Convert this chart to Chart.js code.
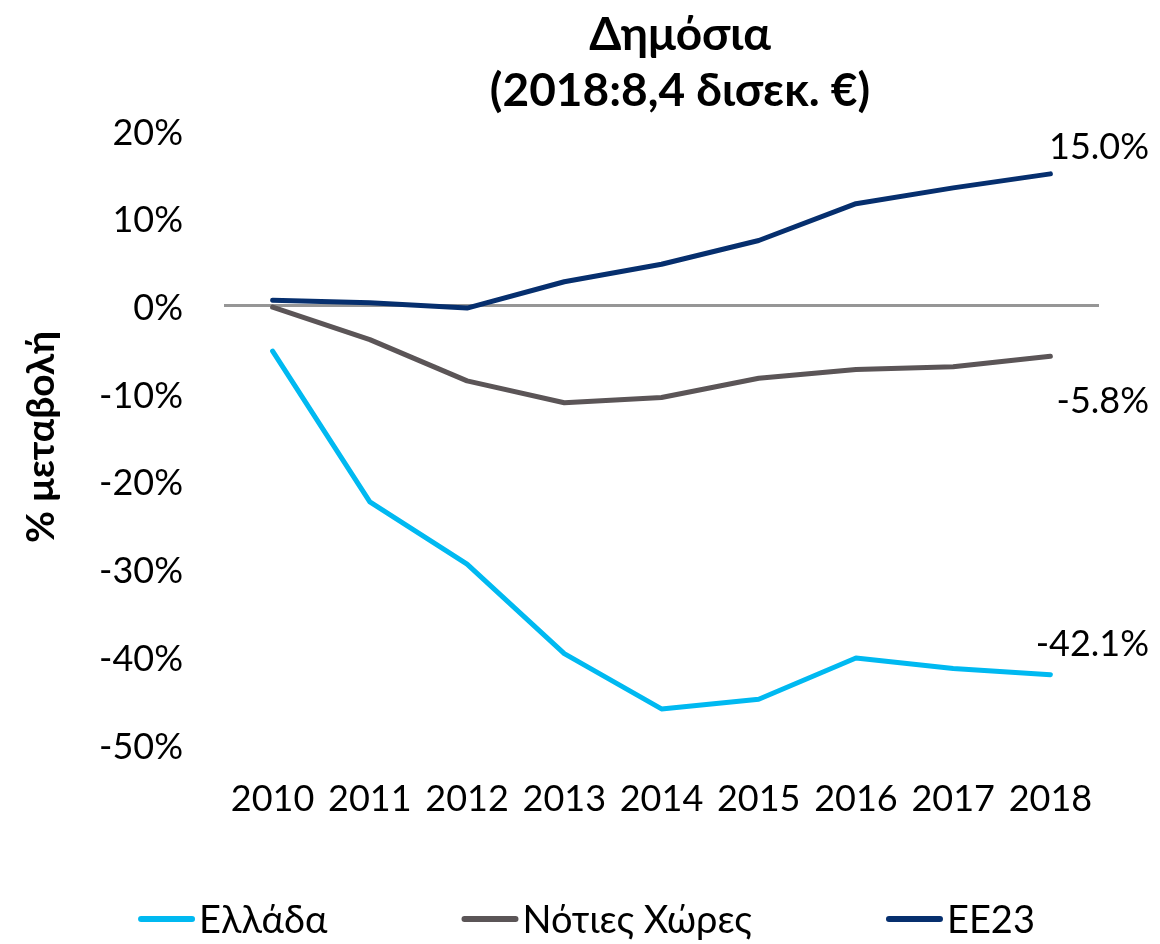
<!DOCTYPE html>
<html><head><meta charset="utf-8">
<script src="https://cdn.jsdelivr.net/npm/chart.js@4"></script>
<style>html,body{margin:0;padding:0;background:#fff}canvas{display:block}</style>
</head><body>
<canvas id="c" width="1160" height="944"></canvas>
<script>
// ---- data ----
const years = ['2010','2011','2012','2013','2014','2015','2016','2017','2018'];
const greece = [-5.2,-22.4,-29.5,-39.7,-46.0,-44.9,-40.2,-41.4,-42.1];
const south  = [-0.2,-3.9,-8.6,-11.1,-10.5,-8.3,-7.3,-7.0,-5.8];
const eu23   = [0.6,0.3,-0.3,2.7,4.7,7.4,11.6,13.4,15.0];
const seriesNames = ['Ελλάδα','Νότιες Χώρες','ΕΕ23'];
const titleLines = ['Δημόσια','(2018:8,4 δισεκ. €)'];
const yAxisTitle = '% μεταβολή';
const yMin = -50, yMax = 20, yStep = 10;

// ---- style ----
const FONT = "Lato, 'Open Sans', sans-serif";
const colors = ['#00B9F1','#5B5557','#062F6E'];
const endLabelDy = [-19, 57, -15];

const overlay = {
  id:'overlay',
  afterDraw(chart){
    const ctx = chart.ctx;
    ctx.save();
    // title
    ctx.fillStyle = '#000';
    ctx.textAlign = 'center';
    ctx.textBaseline = 'alphabetic';
    ctx.font = `bold 46px ${FONT}`;
    ctx.fillText(titleLines[0], 680, 50);
    ctx.fillText(titleLines[1], 680, 106);
    // end labels
    ctx.font = `36px ${FONT}`;
    ctx.textAlign = 'right';
    chart.data.datasets.forEach((ds, i) => {
      const meta = chart.getDatasetMeta(i);
      const p = meta.data[meta.data.length - 1];
      const v = ds.data[ds.data.length - 1];
      ctx.fillText(v.toFixed(1) + '%', 1149, p.y + endLabelDy[i]);
    });
    // legend
    ctx.font = `38px ${FONT}`;
    ctx.textAlign = 'left';
    ctx.textBaseline = 'middle';
    const items = chart.data.datasets.map(ds => ({
      label: ds.label, color: ds.borderColor,
      w: 57 + 5 + ctx.measureText(ds.label).width
    }));
    const gap = 133;
    const total = items.reduce((a, it) => a + it.w, 0) + gap * (items.length - 1);
    let x = 587 - total / 2;
    const y = 919;
    items.forEach(it => {
      ctx.strokeStyle = it.color;
      ctx.lineWidth = 6;
      ctx.lineCap = 'round';
      ctx.beginPath();
      ctx.moveTo(x + 3, y);
      ctx.lineTo(x + 54, y);
      ctx.stroke();
      ctx.fillStyle = '#000';
      ctx.fillText(it.label, x + 61, y + 2);
      x += it.w + gap;
    });
    ctx.restore();
  }
};

const mk = (i, data) => ({
  label: seriesNames[i], data,
  borderColor: colors[i], backgroundColor: colors[i],
  borderWidth: 5, pointRadius: 0, pointHoverRadius: 0,
  tension: 0, borderCapStyle: 'round', borderJoinStyle: 'round', fill: false
});

new Chart(document.getElementById('c'), {
  type: 'line',
  data: { labels: years, datasets: [mk(0, greece), mk(1, south), mk(2, eu23)] },
  options: {
    responsive: false, animation: false,
    layout: { padding: { top: 130, left: 0, right: 61, bottom: 0 } },
    plugins: { legend: { display: false }, title: { display: false }, tooltip: { enabled: false } },
    scales: {
      x: {
        offset: true,
        grid: { display: false, drawTicks: false },
        border: { display: false },
        ticks: { font: { family: FONT, size: 36 }, color: '#000', padding: 34, maxRotation: 0, autoSkip: false },
        afterFit(s) { s.height = 200; }
      },
      y: {
        min: yMin, max: yMax,
        ticks: { stepSize: yStep, callback: v => v + '%', font: { family: FONT, size: 36 }, color: '#000', padding: 41, labelOffset: 3 },
        grid: { drawTicks: false, lineWidth: 3, color: c => (c.tick && c.tick.value === 0) ? '#969696' : 'rgba(0,0,0,0)' },
        border: { display: false },
        title: { display: true, text: yAxisTitle, font: { family: FONT, size: 39, weight: 'bold' }, color: '#000', padding: { top: 18, bottom: 0 } },
        afterFit(s) { s.width = 224; }
      }
    }
  },
  plugins: [overlay]
});
</script>
</body></html>
